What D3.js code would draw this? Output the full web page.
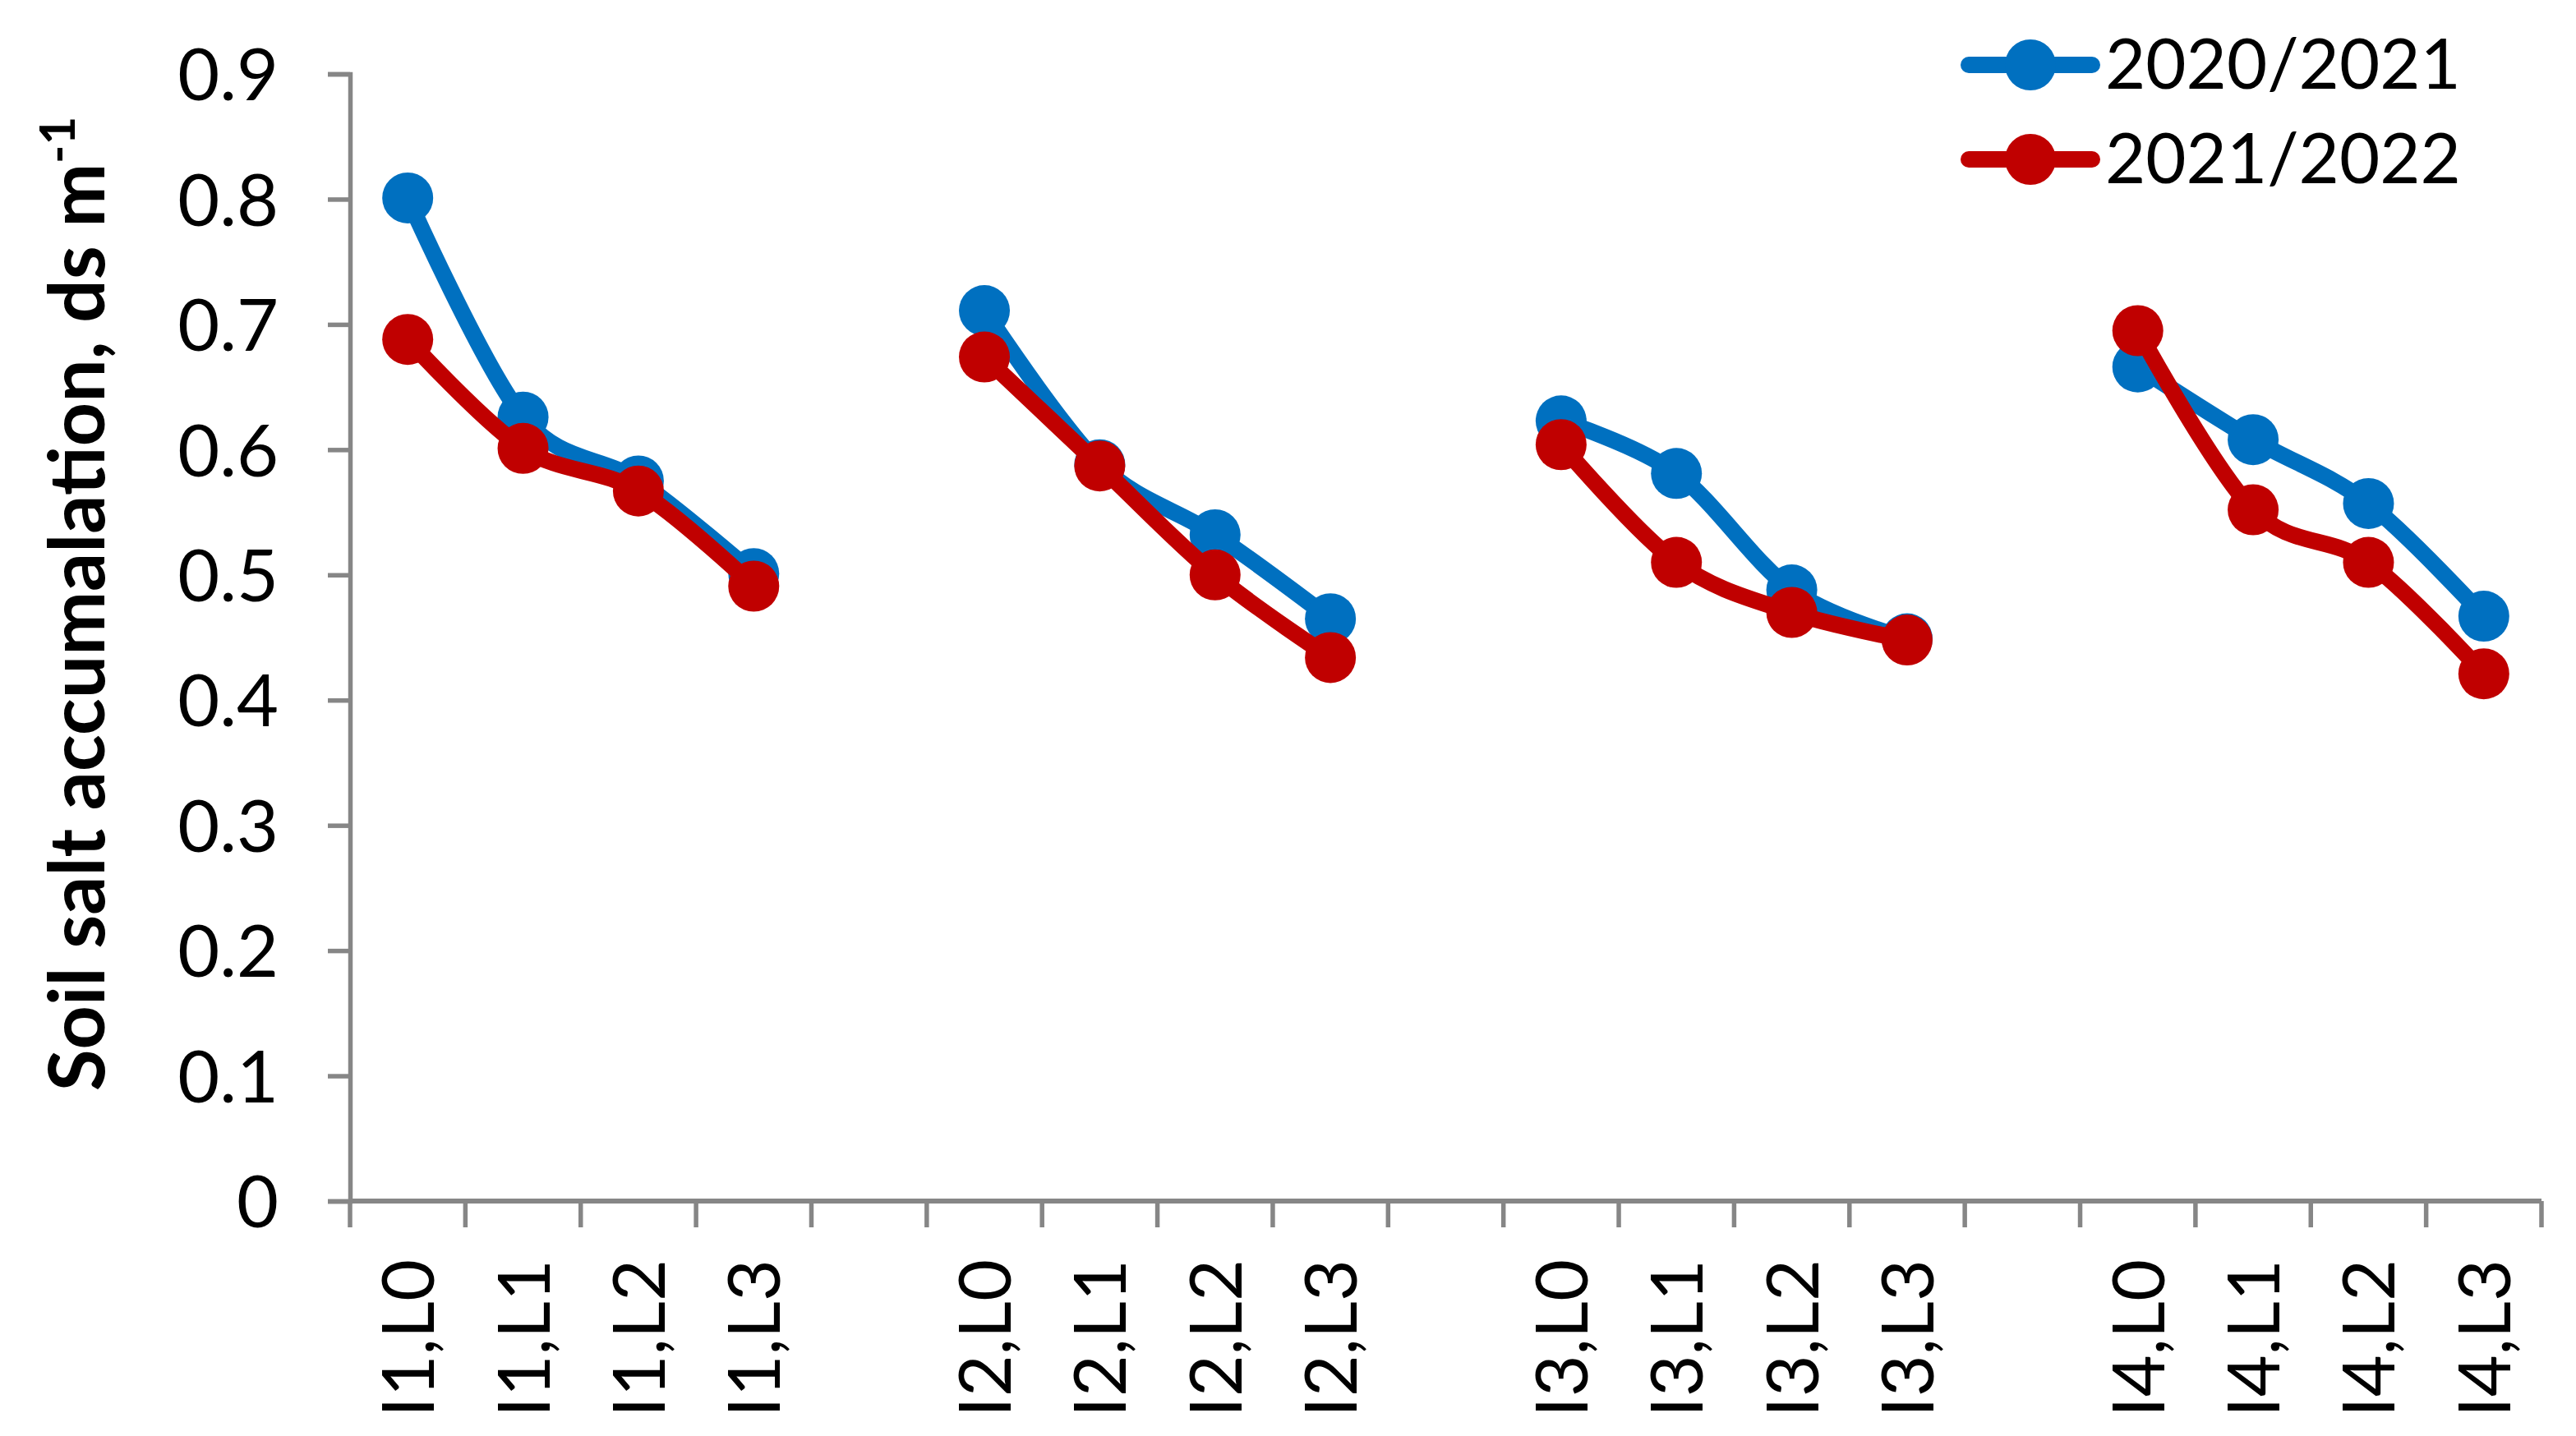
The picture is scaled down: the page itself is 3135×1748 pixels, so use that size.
<!DOCTYPE html>
<html>
<head>
<meta charset="utf-8">
<script src="https://cdn.jsdelivr.net/npm/d3@7"></script>
<style>
  body { margin: 0; background: #ffffff; }
  text { font-family: Lato, "Open Sans", sans-serif; fill: #000000; }
</style>
</head>
<body>
<div id="chart"></div>
<script>
// category labels, blanks separate the irrigation groups
var categories = ["I1,L0", "I1,L1", "I1,L2", "I1,L3", "",
                  "I2,L0", "I2,L1", "I2,L2", "I2,L3", "",
                  "I3,L0", "I3,L1", "I3,L2", "I3,L3", "",
                  "I4,L0", "I4,L1", "I4,L2", "I4,L3"];

// season values, ds m-1 (null = gap)
var season2021 = [0.801, 0.626, 0.575, 0.501, null,
                  0.711, 0.588, 0.532, 0.465, null,
                  0.623, 0.581, 0.488, 0.449, null,
                  0.666, 0.608, 0.557, 0.467];
var season2122 = [0.688, 0.601, 0.567, 0.491, null,
                  0.674, 0.587, 0.500, 0.434, null,
                  0.604, 0.510, 0.470, 0.448, null,
                  0.695, 0.552, 0.510, 0.421];

var seriesNames = ["2020/2021", "2021/2022"];
var seriesColors = ["#0070C0", "#C00000"];
var yTicks = [0, 0.1, 0.2, 0.3, 0.4, 0.5, 0.6, 0.7, 0.8, 0.9];

/**
 * draws the whole chart
 */
function renderChart(container) {
  var width = 3135, height = 1748;
  var left = 426, right = 3093, top = 90, bottom = 1462;

  var svg = d3.select(container).append("svg")
    .attr("width", width).attr("height", height);

  // scales
  var x = d3.scaleBand().domain(d3.range(categories.length)).range([left, right]).padding(0);
  var y = d3.scaleLinear().domain([0, 0.9]).range([bottom, top]);

  // y axis
  var yAxis = svg.append("g").attr("transform", "translate(" + left + ",0)")
    .call(d3.axisLeft(y).tickValues(yTicks).tickSize(27).tickPadding(60)
      .tickFormat(function(d) { return d === 0 ? "0" : d3.format(".1f")(d); }));
  yAxis.selectAll("path, line").attr("stroke", "#868686").attr("stroke-width", 5.5);
  yAxis.selectAll("text").attr("font-size", 88).attr("font-family", "Lato").attr("dy", "0.36em");

  // x axis line and boundary ticks
  var xAxis = svg.append("g");
  xAxis.append("line").attr("x1", left).attr("x2", right).attr("y1", bottom).attr("y2", bottom)
    .attr("stroke", "#868686").attr("stroke-width", 6);
  var bounds = d3.range(categories.length).map(function(i) { return x(i); }).concat([right]);
  xAxis.selectAll(".xtick").data(bounds).enter().append("line")
    .attr("x1", function(d) { return d; }).attr("x2", function(d) { return d; })
    .attr("y1", bottom).attr("y2", bottom + 32)
    .attr("stroke", "#868686").attr("stroke-width", 5.5);

  // rotated category labels
  xAxis.selectAll(".xlab").data(categories).enter().append("text")
    .attr("transform", function(d, i) {
      return "translate(" + (x(i) + x.bandwidth() / 2 + 32) + "," + 1533 + ") rotate(-90)";
    })
    .attr("text-anchor", "end").attr("font-size", 88)
    .text(function(d) { return d; });

  // y title
  var title = svg.append("text")
    .attr("transform", "translate(127,735) rotate(-90)")
    .attr("text-anchor", "middle").attr("font-size", 93).attr("font-weight", "bold");
  title.append("tspan").text("Soil salt accumalation, ds m");
  title.append("tspan").attr("font-size", 60).attr("baseline-shift", "super").text("-1");

  // series: line then markers
  var line = d3.line()
    .defined(function(d) { return d !== null; })
    .x(function(d, i) { return x(i) + x.bandwidth() / 2; })
    .y(function(d) { return y(d); })
    .curve(d3.curveCatmullRom.alpha(0));

  [season2021, season2122].forEach(function(values, s) {
    svg.append("path").datum(values)
      .attr("d", line).attr("fill", "none")
      .attr("stroke", seriesColors[s]).attr("stroke-width", 20)
      .attr("stroke-linejoin", "round").attr("stroke-linecap", "round");

    svg.selectAll(".pt" + s)
      .data(values.map(function(v, i) { return { v: v, i: i }; })
        .filter(function(d) { return d.v !== null; }))
      .enter().append("circle")
      .attr("cx", function(d) { return x(d.i) + x.bandwidth() / 2; })
      .attr("cy", function(d) { return y(d.v); })
      .attr("r", 31).attr("fill", seriesColors[s]);
  });

  // legend
  var legend = svg.append("g");
  seriesNames.forEach(function(name, s) {
    var cy = 79 + s * 115;
    legend.append("line").attr("x1", 2396).attr("x2", 2546).attr("y1", cy).attr("y2", cy)
      .attr("stroke", seriesColors[s]).attr("stroke-width", 20).attr("stroke-linecap", "round");
    legend.append("circle").attr("cx", 2471).attr("cy", cy).attr("r", 31).attr("fill", seriesColors[s]);
    legend.append("text").attr("x", 2562).attr("y", cy + 29).attr("font-size", 85).text(name);
  });
}

renderChart("#chart");
</script>
</body>
</html>
